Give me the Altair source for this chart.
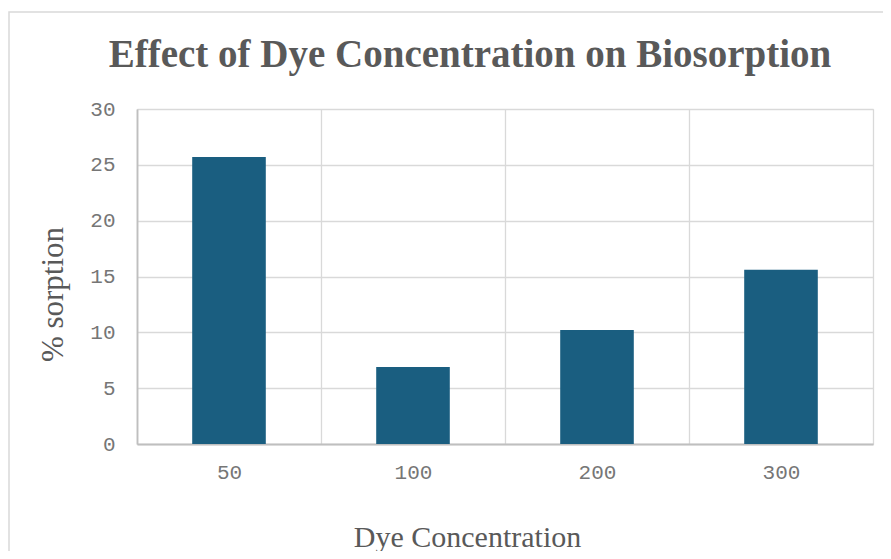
import altair as alt
import pandas as pd

categories = ["50", "100", "200", "300"]
sorption = [25.7, 6.9, 10.2, 15.6]
y_ticks = [0, 5, 10, 15, 20, 25, 30]

df = pd.DataFrame({"conc": categories, "val": sorption})

GRAY = "#595959"
LABEL_GRAY = "#767676"

frame = alt.Chart(pd.DataFrame({"k": [0]})).mark_rect(
    fill="white", fillOpacity=0, stroke="#D9D9D9", strokeWidth=1.5
).encode(
    x=alt.value(-128),
    x2=alt.value(900),
    y=alt.value(-97),
    y2=alt.value(600),
)

bars = alt.Chart(df).mark_bar(width={"band": 0.4}, color="#1A5E80").encode(
    x=alt.X(
        "conc:N",
        sort=categories,
        scale=alt.Scale(paddingInner=0, paddingOuter=0),
        axis=alt.Axis(
            title="Dye Concentration",
            titleFont="Liberation Serif",
            titleFontSize=30,
            titleFontWeight="normal",
            titleColor=GRAY,
            titleX=330,
            titleY=102,
            titleBaseline="alphabetic",
            titleAlign="center",
            labelAngle=0,
            labelFont="Liberation Mono",
            labelFontSize=21,
            labelColor=LABEL_GRAY,
            labelPadding=17,
            ticks=False,
            tickBand="extent",
            grid=True,
            gridColor="#D9D9D9",
            gridWidth=1.3,
            domainColor="#BFBFBF",
            domainWidth=1.8,
        ),
    ),
    y=alt.Y(
        "val:Q",
        scale=alt.Scale(domain=[0, 30], nice=False),
        axis=alt.Axis(
            title="% sorption",
            values=y_ticks,
            titleFont="Liberation Serif",
            titleFontSize=31,
            titleFontWeight="normal",
            titleColor=GRAY,
            titleX=-75,
            titleY=185,
            titleAngle=-90,
            titleBaseline="alphabetic",
            titleAlign="center",
            labelFont="Liberation Mono",
            labelFontSize=21,
            labelColor=LABEL_GRAY,
            labelPadding=22,
            ticks=False,
            grid=True,
            gridColor="#D9D9D9",
            gridWidth=1.3,
            domainColor="#BFBFBF",
            domainWidth=1.8,
        ),
    ),
)

chart = alt.layer(frame, bars).properties(
    width=736,
    height=335,
    autosize=alt.AutoSizeParams(type="none"),
    padding={"left": 129, "top": 101, "right": 10, "bottom": 107},
    title=alt.TitleParams(
        "Effect of Dye Concentration on Biosorption",
        font="Liberation Serif",
        fontSize=39,
        fontWeight="bold",
        color=GRAY,
        anchor="middle",
        dx=-35,
        offset=-64,
    ),
).configure_view(stroke=None).configure(background="white")

chart.save("out.html", embed_options={"renderer": "svg", "actions": False})
